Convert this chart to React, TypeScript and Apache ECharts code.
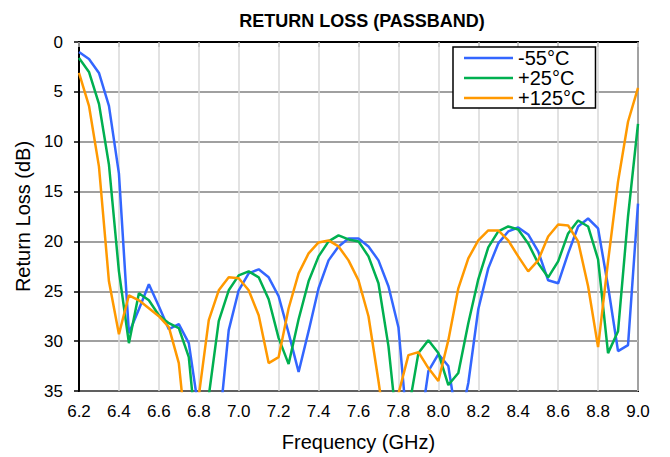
import React, { useEffect, useRef } from "react";
import * as echarts from "echarts";

const FREQ = [
  6.2, 6.25, 6.3, 6.35, 6.4, 6.45, 6.5, 6.55, 6.6, 6.65,
  6.7, 6.75, 6.8, 6.85, 6.9, 6.95, 7.0, 7.05, 7.1, 7.15,
  7.2, 7.25, 7.3, 7.35, 7.4, 7.45, 7.5, 7.55, 7.6, 7.65,
  7.7, 7.75, 7.8, 7.85, 7.9, 7.95, 8.0, 8.05, 8.1, 8.15,
  8.2, 8.25, 8.3, 8.35, 8.4, 8.45, 8.5, 8.55, 8.6, 8.65,
  8.7, 8.75, 8.8, 8.85, 8.9, 8.95, 9.0,
];

const COLD = [
  1.0, 1.7, 3.1, 6.4, 13.2, 29.2, 26.8, 24.3, 26.5, 28.8,
  28.3, 30.2, 37.0, 40.0, 39.0, 28.9, 24.9, 23.2, 22.8, 23.6,
  25.5, 29.2, 33.1, 29.0, 24.7, 21.9, 20.5, 19.7, 19.7, 20.5,
  21.9, 24.5, 28.6, 40.0, 40.0, 33.0, 31.3, 32.5, 39.0, 34.2,
  26.8, 22.7, 20.2, 19.0, 18.6, 19.3, 21.0, 23.9, 24.2, 21.2,
  18.5, 17.7, 18.7, 24.5, 31.0, 30.4, 16.2,
];

const ROOM = [
  1.6, 3.0, 6.2, 12.3, 23.0, 30.2, 25.2, 25.9, 27.4, 28.2,
  28.7, 31.6, 42.0, 35.5, 28.0, 24.9, 23.4, 23.0, 23.6, 25.8,
  29.7, 32.3, 27.8, 24.0, 21.5, 20.0, 19.4, 19.8, 20.0, 21.5,
  24.2, 30.5, 40.0, 37.0, 31.2, 29.9, 31.2, 34.4, 33.2, 28.2,
  23.8, 20.6, 19.0, 18.5, 18.8, 20.2, 22.2, 23.6, 22.0, 19.2,
  17.9, 18.5, 21.8, 31.2, 29.0, 17.5, 8.2,
];

const HOT = [
  3.1, 6.4, 12.5, 24.0, 29.3, 25.4, 25.9, 26.7, 27.5, 28.6,
  32.2, 42.0, 35.5, 27.9, 24.9, 23.6, 23.7, 24.9, 27.4, 32.2,
  31.6, 26.7, 23.2, 21.2, 20.1, 19.9, 20.5, 21.9, 23.9, 27.5,
  34.0, 41.0, 35.3, 31.4, 31.1, 32.7, 34.0, 29.9, 24.7, 21.7,
  19.9, 18.9, 18.9, 19.9, 21.5, 23.0, 21.9, 19.5, 18.3, 18.4,
  20.0, 24.5, 30.6, 22.0, 14.0, 8.0, 4.6,
];

const SERIES_NAMES = ["-55°C", "+25°C", "+125°C"];
const SERIES_COLORS = ["#3366FF", "#00B050", "#FF9900"];
const SERIES_VALUES = [COLD, ROOM, HOT];

const TITLE = "RETURN LOSS (PASSBAND)";
const X_NAME = "Frequency (GHz)";
const Y_NAME = "Return Loss (dB)";

const FONT = "'Liberation Sans', Arial, sans-serif";

export default function App() {
  const ref = useRef<HTMLDivElement>(null);

  useEffect(() => {
    if (!ref.current) return;
    const chart = echarts.init(ref.current, null, { renderer: "svg" });
    const option = {
      animation: false,
      backgroundColor: "#ffffff",
      title: {
        text: TITLE,
        left: 362,
        top: 12,
        textAlign: "center",
        padding: 0,
        textStyle: {
          fontFamily: FONT,
          fontSize: 18,
          fontWeight: "bold",
          color: "#000",
        },
      },
      legend: {
        orient: "vertical",
        left: 453,
        top: 47,
        padding: [1, 10, 0, 11],
        icon: "rect",
        itemWidth: 49,
        itemHeight: 2.5,
        itemGap: 0,
        borderColor: "#000",
        borderWidth: 1.5,
        borderRadius: 0,
        backgroundColor: "#fff",
        textStyle: {
          fontFamily: FONT,
          fontSize: 20,
          lineHeight: 20,
          color: "#000",
        },
        data: SERIES_NAMES,
      },
      grid: {
        left: 79,
        top: 42,
        width: 559,
        height: 349,
        show: true,
        borderColor: "#000",
        borderWidth: 2,
        containLabel: false,
      },
      xAxis: {
        type: "value",
        min: 6.2,
        max: 9.0,
        interval: 0.2,
        name: X_NAME,
        nameLocation: "middle",
        nameGap: 41,
        nameTextStyle: { fontFamily: FONT, fontSize: 20, color: "#000" },
        axisLine: { show: true, lineStyle: { color: "#000", width: 2 } },
        axisTick: { show: true, length: 5, lineStyle: { color: "#bfbfbf", width: 1.5 } },
        axisLabel: {
          margin: 12,
          fontFamily: FONT,
          fontSize: 17,
          color: "#000",
          formatter: (v: number) => v.toFixed(1),
        },
        splitLine: { show: true, lineStyle: { color: "#d9d9d9", width: 1.5 } },
      },
      yAxis: {
        type: "value",
        inverse: true,
        min: 0,
        max: 35,
        interval: 5,
        name: Y_NAME,
        nameLocation: "middle",
        nameRotate: 90,
        nameGap: 44,
        nameTextStyle: { fontFamily: FONT, fontSize: 20, color: "#000" },
        axisLine: { show: true, lineStyle: { color: "#000", width: 2 } },
        axisTick: { show: true, length: 5, lineStyle: { color: "#000", width: 1.5 } },
        axisLabel: {
          margin: 16,
          fontFamily: FONT,
          fontSize: 17,
          color: "#000",
        },
        splitLine: { show: true, lineStyle: { color: "#808080", width: 1.5 } },
      },
      series: SERIES_NAMES.map((name, i) => ({
        name,
        type: "line",
        data: FREQ.map((f, j) => [f, SERIES_VALUES[i][j]]),
        showSymbol: false,
        symbol: "none",
        clip: true,
        color: SERIES_COLORS[i],
        itemStyle: { color: SERIES_COLORS[i] },
        lineStyle: { color: SERIES_COLORS[i], width: 2.5 },
        emphasis: { disabled: true },
      })),
    };
    chart.setOption(option as any);
    return () => chart.dispose();
  }, []);

  return (
    <div
      ref={ref}
      style={{ position: "fixed", left: 0, top: 0, width: 670, height: 457 }}
    />
  );
}
